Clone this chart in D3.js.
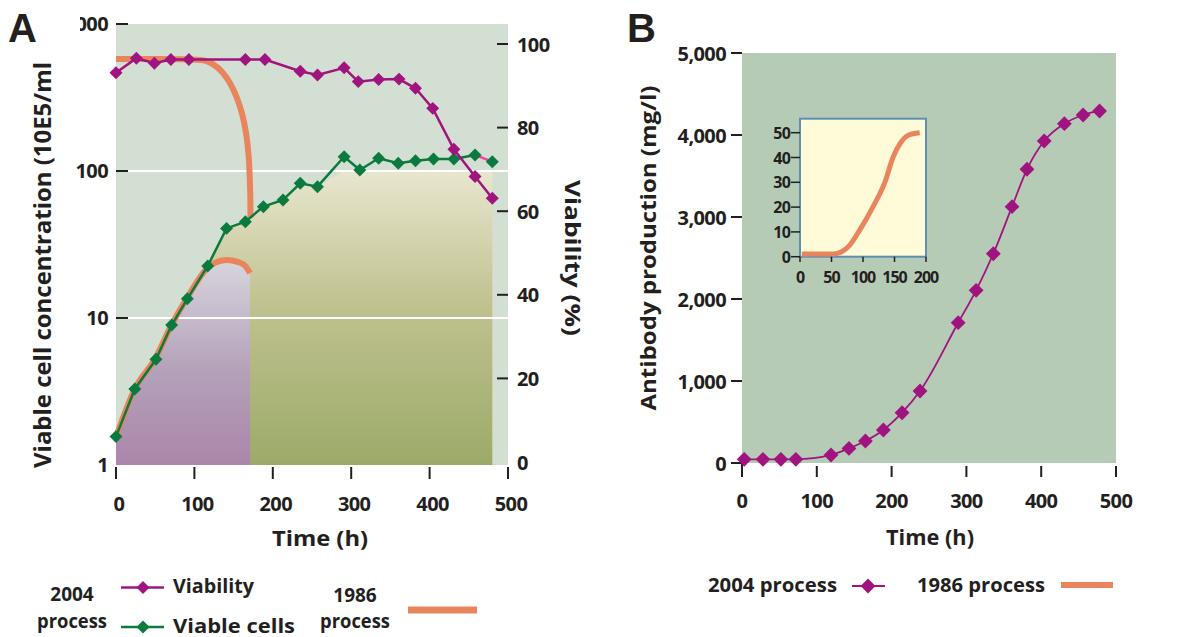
<!DOCTYPE html>
<html><head><meta charset="utf-8">
<script src="https://cdn.jsdelivr.net/npm/d3@7"></script>
<style>
html,body{margin:0;padding:0;background:#fff;}
text{font-family:"Open Sans",sans-serif;font-weight:700;fill:#231f20;}
</style></head>
<body>
<svg id="c" width="1193" height="637"></svg>
<script>
// ---------- DATA ----------
const timeTicks = [0,100,200,300,400,500];
const cellTicks = [1,10,100,1000];
const viabTicks = [0,20,40,60,80,100];
const abTicks = [0,1000,2000,3000,4000,5000];
const insetXTicks = [0,50,100,150,200];
const insetYTicks = [0,10,20,30,40,50];

// 2004 process - viability (%)
const viabTime = [0,26,49,70,93,165,190,235,257,291,309,335,361,382,404,431,458,480];
const viabVal  = [93.1,96.6,95.4,96.3,96.3,96.3,96.3,93.5,92.6,94.3,91.0,91.5,91.6,89.4,84.6,74.8,68.3,63.1];
// 2004 process - viable cells (10E5/ml)
const cellTime = [0,24,51,71,91,117,141,165,188,213,235,257,291,311,335,360,382,405,431,458,480];
const cellVal  = [1.56,3.29,5.24,8.96,13.5,22.6,40.7,45.2,57.2,63.5,82.5,78.2,125,101.6,122,112.8,117.5,120.7,120.7,128.5,115.7];
// 1986 process - viability (%)
const v1986Time = [0,100,112,124,136,146,154,161,166,169.5,171,171.5,171.5];
const v1986Val  = [96.4,96.4,96.2,95.3,93.4,90.6,87.4,83.5,79.0,73.5,66.5,62.0,58.5];
// 1986 process - viable cells
const c1986Time = [0,24,50,71,91,117,126,141,156,165,171];
const c1986Val  = [1.55,3.3,5.3,9.0,13.8,22,23.7,24.8,24,22.6,20.2];
// Panel B - antibody production (mg/l), 2004 process
const abTime = [3,28,52,72,119,143,165,189,214,238,289,313,336,361,381,404,431,456,478];
const abVal  = [45,45,45,45,98,178,268,402,613,878,1711,2106,2552,3126,3582,3927,4138,4244,4293];
// Inset - 1986 process
const insetTime = [3,53,66,79,95,116,135,148,159,172,190];
const insetVal  = [1.1,1.1,2,4.7,10.8,20.2,30.2,40.3,45.7,49,50];

// ---------- COLORS ----------
const C = {bgA:"#d4dfd3", bgB:"#b6cbb6", purple:"#a0147f", green:"#0b7a3e",
  orange:"#e9855d", pink:"#ec4a9b", ink:"#231f20", insetBg:"#fffad8", insetBorder:"#5d8fb3"};

const svg = d3.select("#c");
const defs = svg.append("defs");

// ---------- PANEL A ----------
const xA = d3.scaleLinear().domain([0,500]).range([116,508]);
const yL = d3.scaleLog().domain([1,1000]).range([465,24]);
const yR = d3.scaleLinear().domain([0,100]).range([462,44]);
const A = svg.append("g");

A.append("rect").attr("x",xA(0)).attr("y",24).attr("width",xA(500)-xA(0)).attr("height",465-24).attr("fill",C.bgA);

const gOl = defs.append("linearGradient").attr("id","gOl").attr("gradientUnits","userSpaceOnUse")
  .attr("x1",0).attr("x2",0).attr("y1",yL(100)).attr("y2",465);
gOl.append("stop").attr("offset",0).attr("stop-color","#e8e6cf");
gOl.append("stop").attr("offset",0.45).attr("stop-color","#c0c290");
gOl.append("stop").attr("offset",1).attr("stop-color","#9caa69");
const gPu = defs.append("linearGradient").attr("id","gPu").attr("gradientUnits","userSpaceOnUse")
  .attr("x1",0).attr("x2",0).attr("y1",258).attr("y2",465);
gPu.append("stop").attr("offset",0).attr("stop-color","#d8d6dd");
gPu.append("stop").attr("offset",0.55).attr("stop-color","#b3a1b9");
gPu.append("stop").attr("offset",1).attr("stop-color","#ab86aa");

const cellPts = cellTime.map((t,i)=>[t,cellVal[i]]);
const areaOl = d3.area().x(d=>xA(d[0])).y0(465).y1(d=>yL(Math.min(d[1],100)));
A.append("path").datum(cellPts).attr("d",areaOl).attr("fill","url(#gOl)");
const c86 = c1986Time.map((t,i)=>[t,c1986Val[i]]);
const areaPu = d3.area().x(d=>xA(d[0])).y0(465).y1(d=>yL(d[1])).curve(d3.curveMonotoneX);
A.append("path").datum(c86).attr("d",areaPu).attr("fill","url(#gPu)");

// gridlines
[10,100].forEach(v=>A.append("line").attr("x1",xA(0)).attr("x2",xA(500)).attr("y1",yL(v)).attr("y2",yL(v))
  .attr("stroke","#fff").attr("stroke-width",2));

// 1986 lines
const lineCells = d3.line().x(d=>xA(d[0])).y(d=>yL(d[1])).curve(d3.curveMonotoneX);
A.append("path").datum(c86).attr("d",lineCells).attr("fill","none").attr("stroke",C.orange).attr("stroke-width",6);
const v86 = v1986Time.map((t,i)=>[t,v1986Val[i]]);
const lineV = d3.line().x(d=>xA(d[0])).y(d=>yR(d[1])).curve(d3.curveBasis);
A.append("path").datum(v86).attr("d",lineV).attr("fill","none").attr("stroke",C.orange).attr("stroke-width",6);

// 2004 viable cells
const lineC = d3.line().x(d=>xA(d[0])).y(d=>yL(d[1]));
A.append("path").datum(cellPts.slice(0,-1)).attr("d",lineC).attr("fill","none").attr("stroke",C.green).attr("stroke-width",2.5);
A.append("path").datum(cellPts.slice(-2)).attr("d",lineC).attr("fill","none").attr("stroke",C.pink).attr("stroke-width",2.5);
const diamondA = d3.symbol().type(d3.symbolSquare).size(84);
A.selectAll(".gc").data(cellPts).join("path").attr("d",diamondA)
  .attr("transform",d=>`translate(${xA(d[0])},${yL(d[1])}) rotate(45)`).attr("fill",C.green);

// 2004 viability
const viabPts = viabTime.map((t,i)=>[t,viabVal[i]]);
const lineVi = d3.line().x(d=>xA(d[0])).y(d=>yR(d[1]));
A.append("path").datum(viabPts).attr("d",lineVi).attr("fill","none").attr("stroke",C.purple).attr("stroke-width",2.5);
A.selectAll(".pv").data(viabPts).join("path").attr("d",diamondA)
  .attr("transform",d=>`translate(${xA(d[0])},${yR(d[1])}) rotate(45)`).attr("fill",C.purple);

// left axis ticks
const clipL = defs.append("clipPath").attr("id","clipL");
clipL.append("rect").attr("x",80).attr("y",0).attr("width",100).attr("height",637);
cellTicks.forEach(v=>{
  if(v>1) A.append("line").attr("x1",116).attr("x2",128).attr("y1",yL(v)).attr("y2",yL(v)).attr("stroke",C.ink).attr("stroke-width",2);
  const t = A.append("text").attr("x",108).attr("y",yL(v)-1).attr("text-anchor","end").attr("dominant-baseline","central")
    .attr("font-size",20).attr("letter-spacing",-0.6).text(d3.format("d")(v));
  if(v===1000) t.attr("clip-path","url(#clipL)");
});
// right axis ticks
viabTicks.forEach(v=>{
  if(v>0) A.append("line").attr("x1",497).attr("x2",508).attr("y1",yR(v)).attr("y2",yR(v)).attr("stroke",C.ink).attr("stroke-width",2);
  A.append("text").attr("x",517).attr("y",yR(v)).attr("dominant-baseline","central").attr("font-size",20).attr("letter-spacing",-0.6).text(v);
});
// x ticks
timeTicks.forEach(v=>{
  A.append("line").attr("x1",xA(v)).attr("x2",xA(v)).attr("y1",467).attr("y2",479).attr("stroke",C.ink).attr("stroke-width",2);
  A.append("text").attr("x",xA(v)+3).attr("y",503).attr("text-anchor","middle").attr("dominant-baseline","central").attr("font-size",20).attr("letter-spacing",-0.6).text(v);
});
A.append("text").attr("x",320).attr("y",537).attr("text-anchor","middle").attr("dominant-baseline","central")
  .attr("font-size",22).attr("textLength",96).attr("lengthAdjust","spacingAndGlyphs").text("Time (h)");
A.append("text").attr("transform","translate(42,265) rotate(-90)").attr("text-anchor","middle").attr("dominant-baseline","central")
  .attr("font-size",23).attr("textLength",406).attr("lengthAdjust","spacingAndGlyphs").text("Viable cell concentration (10E5/ml");
A.append("text").attr("transform","translate(574,258) rotate(90)").attr("text-anchor","middle").attr("dominant-baseline","central")
  .attr("font-size",22).attr("textLength",156).attr("lengthAdjust","spacingAndGlyphs").text("Viability (%)");
A.append("text").attr("x",8).attr("y",42).attr("font-size",40).attr("font-weight",700)
  .style("font-family","'Liberation Sans',Arial,sans-serif").text("A");

// legend A
const LA = svg.append("g");
LA.append("text").attr("x",72).attr("y",594).attr("text-anchor","middle").attr("dominant-baseline","central").attr("font-size",19).text("2004");
LA.append("text").attr("x",72).attr("y",621).attr("text-anchor","middle").attr("dominant-baseline","central").attr("font-size",19)
  .attr("textLength",70).attr("lengthAdjust","spacingAndGlyphs").text("process");
[[587.5,C.purple,"Viability",81],[627,C.green,"Viable cells",122]].forEach(([y,col,lab,w])=>{
  LA.append("line").attr("x1",121).attr("x2",164).attr("y1",y).attr("y2",y).attr("stroke",col).attr("stroke-width",2.5);
  LA.append("path").attr("d",diamondA).attr("transform",`translate(143,${y}) rotate(45)`).attr("fill",col);
  LA.append("text").attr("x",173).attr("y",y-2).attr("dominant-baseline","central").attr("font-size",20)
    .attr("textLength",w).attr("lengthAdjust","spacingAndGlyphs").text(lab);
});
LA.append("text").attr("x",355).attr("y",595).attr("text-anchor","middle").attr("dominant-baseline","central").attr("font-size",19).text("1986");
LA.append("text").attr("x",355).attr("y",621).attr("text-anchor","middle").attr("dominant-baseline","central").attr("font-size",19)
  .attr("textLength",70).attr("lengthAdjust","spacingAndGlyphs").text("process");
LA.append("line").attr("x1",408).attr("x2",477).attr("y1",610).attr("y2",610).attr("stroke",C.orange).attr("stroke-width",7);

// ---------- PANEL B ----------
const xB = d3.scaleLinear().domain([0,500]).range([742,1116]);
const yB = d3.scaleLinear().domain([0,5000]).range([463,53]);
const B = svg.append("g");
B.append("rect").attr("x",xB(0)).attr("y",yB(5000)).attr("width",xB(500)-xB(0)).attr("height",yB(0)-yB(5000)).attr("fill",C.bgB);
abTicks.forEach(v=>{
  B.append("line").attr("x1",731).attr("x2",742).attr("y1",yB(v)).attr("y2",yB(v)).attr("stroke",C.ink).attr("stroke-width",2);
  B.append("text").attr("x",726).attr("y",yB(v)).attr("text-anchor","end").attr("dominant-baseline","central").attr("font-size",20)
    .attr("letter-spacing",-0.6).text(d3.format(",")(v));
});
timeTicks.forEach(v=>{
  B.append("line").attr("x1",xB(v)).attr("x2",xB(v)).attr("y1",v===0?463:466).attr("y2",477).attr("stroke",C.ink).attr("stroke-width",2);
  B.append("text").attr("x",xB(v)).attr("y",500).attr("text-anchor","middle").attr("dominant-baseline","central").attr("font-size",20)
    .attr("letter-spacing",-0.6).text(v);
});
B.append("text").attr("x",930).attr("y",536).attr("text-anchor","middle").attr("dominant-baseline","central")
  .attr("font-size",22).attr("textLength",88).attr("lengthAdjust","spacingAndGlyphs").text("Time (h)");
B.append("text").attr("transform","translate(647,248) rotate(-90)").attr("text-anchor","middle").attr("dominant-baseline","central")
  .attr("font-size",22).attr("textLength",325).attr("lengthAdjust","spacingAndGlyphs").text("Antibody production (mg/l)");
B.append("text").attr("x",627).attr("y",42).attr("font-size",40).attr("font-weight",700)
  .style("font-family","'Liberation Sans',Arial,sans-serif").text("B");

const abPts = abTime.map((t,i)=>[t,abVal[i]]);
B.append("path").datum(abPts).attr("d",d3.line().x(d=>xB(d[0])).y(d=>yB(d[1])).curve(d3.curveMonotoneX))
  .attr("fill","none").attr("stroke",C.purple).attr("stroke-width",1.8);
const diamondB = d3.symbol().type(d3.symbolSquare).size(110);
B.selectAll(".ab").data(abPts).join("path").attr("d",diamondB)
  .attr("transform",d=>`translate(${xB(d[0])},${yB(d[1])}) rotate(45)`).attr("fill",C.purple);

// inset
const xI = d3.scaleLinear().domain([0,200]).range([800,926]);
const yI = d3.scaleLinear().domain([0,50]).range([256.7,132.7]);
B.append("rect").attr("x",800).attr("y",118.7).attr("width",126).attr("height",138).attr("fill",C.insetBg)
  .attr("stroke",C.insetBorder).attr("stroke-width",2);
const insPts = insetTime.map((t,i)=>[t,insetVal[i]]);
B.append("path").datum(insPts).attr("d",d3.line().x(d=>xI(d[0])).y(d=>yI(d[1])).curve(d3.curveMonotoneX))
  .attr("fill","none").attr("stroke",C.orange).attr("stroke-width",5);
insetYTicks.forEach(v=>{
  B.append("line").attr("x1",791).attr("x2",800).attr("y1",yI(v)).attr("y2",yI(v)).attr("stroke",C.ink).attr("stroke-width",1.5);
  B.append("text").attr("x",790).attr("y",yI(v)).attr("text-anchor","end").attr("dominant-baseline","central").attr("font-size",16)
    .attr("letter-spacing",-0.8).text(v);
});
insetXTicks.forEach(v=>{
  B.append("line").attr("x1",xI(v)).attr("x2",xI(v)).attr("y1",256.7).attr("y2",262).attr("stroke",C.ink).attr("stroke-width",1.5);
  B.append("text").attr("x",xI(v)).attr("y",277).attr("text-anchor","middle").attr("dominant-baseline","central").attr("font-size",16)
    .attr("letter-spacing",-1).text(v);
});

// legend B
const LB = svg.append("g");
LB.append("text").attr("x",708).attr("y",584).attr("dominant-baseline","central").attr("font-size",20)
  .attr("textLength",129).attr("lengthAdjust","spacingAndGlyphs").text("2004 process");
LB.append("line").attr("x1",852).attr("x2",885).attr("y1",586).attr("y2",586).attr("stroke",C.purple).attr("stroke-width",1.8);
LB.append("path").attr("d",diamondB).attr("transform","translate(868,586) rotate(45)").attr("fill",C.purple);
LB.append("text").attr("x",917).attr("y",584).attr("dominant-baseline","central").attr("font-size",20)
  .attr("textLength",128).attr("lengthAdjust","spacingAndGlyphs").text("1986 process");
LB.append("line").attr("x1",1061).attr("x2",1113).attr("y1",585).attr("y2",585).attr("stroke",C.orange).attr("stroke-width",6);
</script>
</body></html>
